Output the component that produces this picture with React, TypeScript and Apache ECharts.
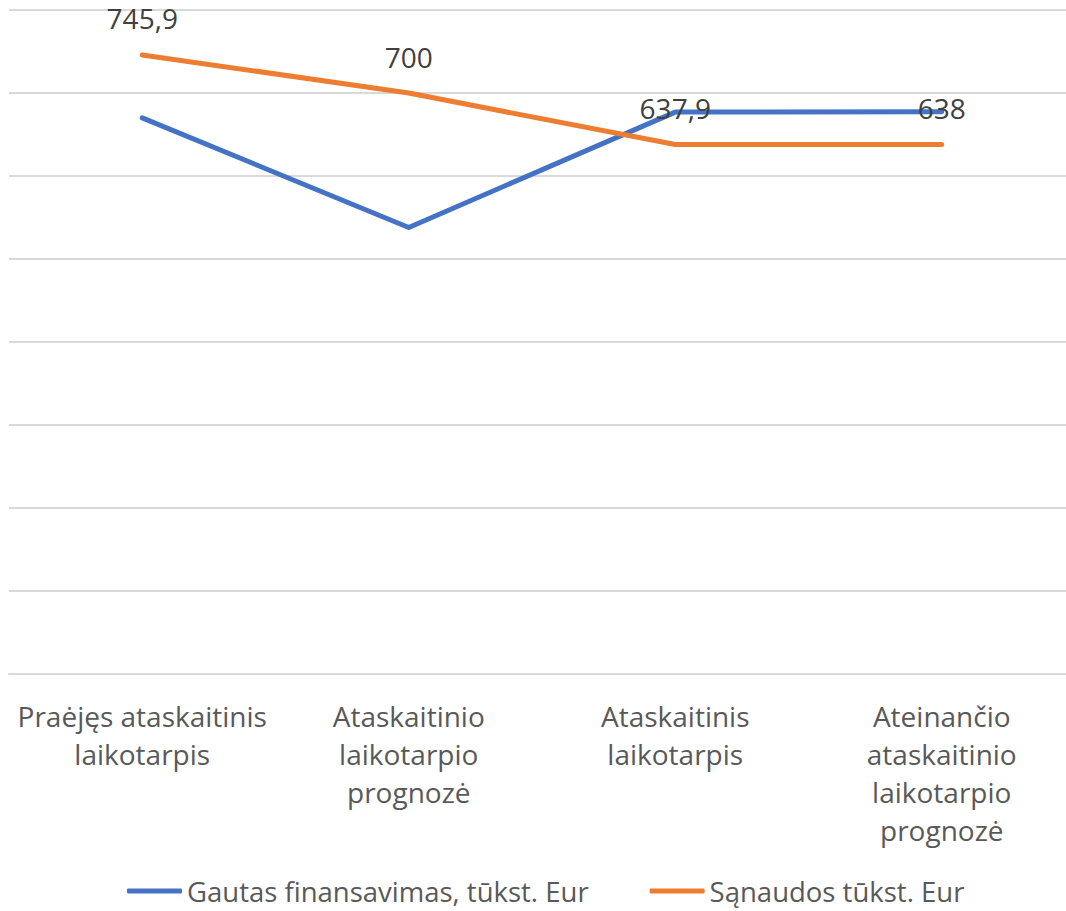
import React, { useEffect, useRef } from "react";
import * as echarts from "echarts";

const categories = [
  "Praėjęs ataskaitinis\nlaikotarpis",
  "Ataskaitinio\nlaikotarpio\nprognozė",
  "Ataskaitinis\nlaikotarpis",
  "Ateinančio\nataskaitinio\nlaikotarpio\nprognozė",
];
const seriesNames = ["Gautas finansavimas, tūkst. Eur", "Sąnaudos tūkst. Eur"];
const fundingValues = [670, 538, 677, 677.5];
const costValues = [745.9, 700, 637.9, 638];

const FONT = "'Open Sans', 'Noto Sans', sans-serif";

export default function App() {
  const ref = useRef<HTMLDivElement>(null);
  useEffect(() => {
    if (!ref.current) return;
    const chart = echarts.init(ref.current, undefined, { renderer: "svg" });
    chart.setOption({
      animation: false,
      backgroundColor: "#ffffff",
      textStyle: { fontFamily: FONT },
      grid: { left: 9, right: 0, top: 10, bottom: 237, containLabel: false },
      legend: {
        left: 127,
        top: 877,
        padding: 0,
        icon: "roundRect",
        itemWidth: 55,
        itemHeight: 5,
        itemGap: 61,
        textStyle: { fontFamily: FONT, fontSize: 27.5, color: "#595959" },
        data: seriesNames,
      },
      xAxis: {
        type: "category",
        data: categories,
        boundaryGap: true,
        axisLine: { show: true, lineStyle: { color: "#d9d9d9", width: 2 } },
        axisTick: { show: false },
        axisLabel: {
          interval: 0,
          margin: 23,
          fontFamily: FONT,
          fontSize: 28,
          lineHeight: 38,
          color: "#595959",
          align: "center",
        },
      },
      yAxis: {
        type: "value",
        min: 0,
        max: 800,
        interval: 100,
        axisLabel: { show: false },
        axisLine: { show: false },
        axisTick: { show: false },
        splitLine: { lineStyle: { color: "#d9d9d9", width: 2 } },
      },
      series: [
        {
          name: seriesNames[0],
          type: "line",
          data: fundingValues,
          symbol: "none",
          lineStyle: { color: "#4472c4", width: 5, cap: "round", join: "round" },
          itemStyle: { color: "#4472c4" },
        },
        {
          name: seriesNames[1],
          type: "line",
          data: costValues,
          symbol: "circle",
          symbolSize: 1,
          showSymbol: true,
          lineStyle: { color: "#ed7d31", width: 5, cap: "round", join: "round" },
          itemStyle: { color: "#ed7d31" },
          label: {
            show: true,
            position: "top",
            distance: 22,
            fontFamily: FONT,
            fontSize: 28,
            color: "#404040",
            formatter: (p: any) => String(p.value).replace(".", ","),
          },
        },
      ],
    });
    return () => chart.dispose();
  }, []);
  return (
    <div
      style={{
        position: "fixed",
        left: 0,
        top: 0,
        width: 1066,
        height: 911,
        overflow: "hidden",
        background: "#fff",
      }}
    >
      <div ref={ref} style={{ width: 1075, height: 911 }} />
    </div>
  );
}
